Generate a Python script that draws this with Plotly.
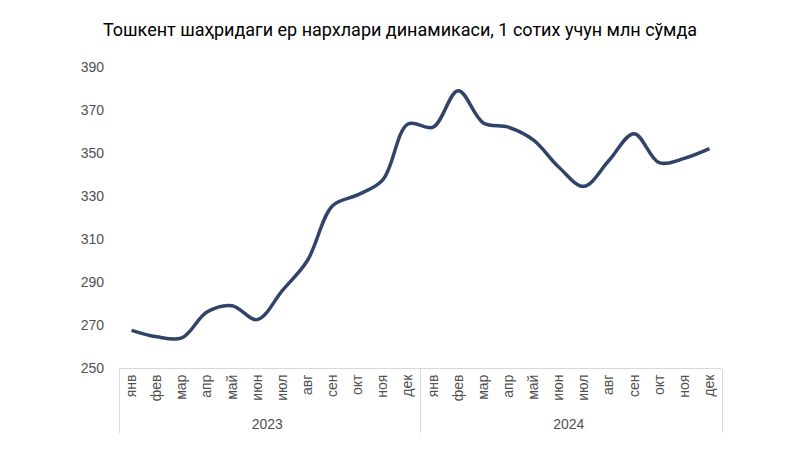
import plotly.graph_objects as go

months = ["янв", "фев", "мар", "апр", "май", "июн", "июл", "авг", "сен", "окт", "ноя", "дек"]
years = ["2023", "2024"]
prices_2023 = [267.5, 264.5, 264, 276, 279, 272.5, 286, 300, 325.5, 330.5, 337.5, 363.5]
prices_2024 = [362, 379, 364, 362, 356, 343.5, 334.5, 346.5, 359, 345.5, 347.5, 352]
title_text = "Тошкент шаҳридаги ер нархлари динамикаси, 1 сотих учун млн сўмда"
y_ticks = [250, 270, 290, 310, 330, 350, 370, 390]

x_outer = [y for y in years for _ in months]
x_inner = months * len(years)
values = prices_2023 + prices_2024

fig = go.Figure()
fig.add_trace(go.Scatter(
    x=[x_outer, x_inner], y=values, mode="lines",
    line=dict(color="#2f4468", width=3.5, shape="spline", smoothing=1.0),
    showlegend=False, hoverinfo="skip"))

tick_font = dict(family="Liberation Sans, Arial", size=14, color="#505050")

fig.update_layout(
    width=800, height=452,
    margin=dict(l=119, r=78, t=67, b=84),
    paper_bgcolor="white", plot_bgcolor="white",
    title=dict(text=title_text, x=0.5, xanchor="center", y=0.935, yanchor="middle",
               font=dict(family="Roboto", size=18, color="#000000")),
    font=tick_font,
    xaxis=dict(type="multicategory", tickangle=-90, showgrid=False, zeroline=False,
               showline=True, linecolor="#d9d9d9", linewidth=1,
               showdividers=True, dividercolor="#d9d9d9", dividerwidth=1,
               ticks="", range=[-0.5, 23.5], tickfont=tick_font),
    yaxis=dict(range=[250, 390], tickvals=y_ticks, showgrid=False, zeroline=False,
               showline=False, ticks="", ticklabelstandoff=14, tickfont=tick_font),
)

fig.write_html("out.html")
